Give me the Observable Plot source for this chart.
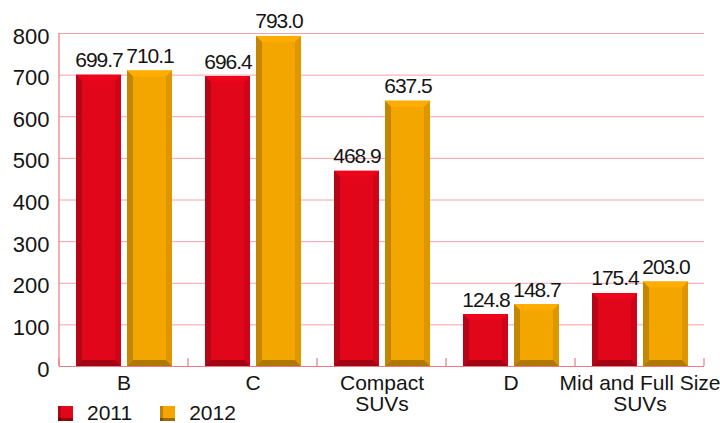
<!DOCTYPE html>
<html><head><meta charset="utf-8">
<script src="https://cdn.jsdelivr.net/npm/d3@7"></script>
<script src="https://cdn.jsdelivr.net/npm/@observablehq/plot@0.6"></script>
<style>
body{margin:0;background:#fff;}
#wrap{position:relative;width:720px;height:423px;overflow:hidden;font-family:"Liberation Sans",Arial,sans-serif;}
#legend{position:absolute;left:58px;top:403px;display:flex;align-items:center;font-size:21px;line-height:20px;color:#141414;}
.item{display:flex;align-items:center;margin-right:28px;}
.sw{width:15px;height:15px;display:inline-block;margin-right:14px;box-shadow:inset 3px 0 0 rgba(0,0,0,.22),inset 0 -3px 0 rgba(0,0,0,.35);}
g.vals text{letter-spacing:-1px;}
</style></head><body><div id="wrap"></div>
<script>
const categories = ["B", "C", "Compact\nSUVs", "D", "Mid and Full Size\nSUVs"];
const years = ["2011", "2012"];
const values2011 = [699.7, 696.4, 468.9, 124.8, 175.4];
const values2012 = [710.1, 793.0, 637.5, 148.7, 203.0];
const yTicks = [0, 100, 200, 300, 400, 500, 600, 700, 800];
const colors = ["#e1061a", "#f3a500"];
const gridColor = "#f4a2a8";
const baseColor = "#ec7a84";

const data = categories.flatMap((c, i) => [
  {category: c, year: years[0], value: values2011[i]},
  {category: c, year: years[1], value: values2012[i]}
]);

const plot = Plot.plot({
  width: 720, height: 423,
  marginTop: 33, marginRight: 15, marginBottom: 57, marginLeft: 58,
  style: {fontFamily: '"Liberation Sans", Arial, sans-serif', fontSize: "21px", color: "#141414", background: "#fff", overflow: "visible"},
  fx: {domain: categories, padding: 0, axis: null, label: null},
  x: {domain: years, paddingInner: 0.12, paddingOuter: 0.32, axis: null},
  y: {domain: [0, 800], axis: null},
  color: {domain: years, range: colors},
  marks: [
    Plot.ruleY(yTicks.slice(1), {stroke: gridColor, strokeWidth: 1}),
    Plot.barY(data, {fx: "category", x: "year", y: "value", fill: "year"}),
    Plot.ruleY([0], {stroke: baseColor, strokeWidth: 1.2}),
    Plot.text(data, {fx: "category", x: "year", y: "value", text: d => d.value.toFixed(1), dy: -8, lineAnchor: "bottom", fill: "#141414", fontSize: 21, className: "vals"}),
    Plot.text(categories, {fx: d => d, text: d => d, frameAnchor: "bottom", lineAnchor: "top", dy: 9, lineHeight: 1.0, fill: "#141414", fontSize: 21}),
    Plot.axisY({ticks: yTicks, tickSize: 0, tickPadding: 10, dy: 3, label: null, tickFormat: d => String(d), fontSize: 22, fill: "#141414"})
  ]
});

// Bevel decoration on each bar rect drawn by Plot
const b = 6;
plot.querySelectorAll('g[aria-label="bar"] rect').forEach(r => {
  const x = +r.getAttribute("x"), y = +r.getAttribute("y");
  const w = +r.getAttribute("width"), h = +r.getAttribute("height");
  const fill = r.getAttribute("fill") || getComputedStyle(r).fill;
  const c = d3.color(fill);
  const bb = Math.min(b, h / 2, w / 2);
  const polys = [
    {pts: [[x, y], [x + w, y], [x + w - bb, y + bb], [x + bb, y + bb]], col: c.brighter(0.15)},
    {pts: [[x, y], [x + bb, y + bb], [x + bb, y + h - bb], [x, y + h]], col: c.darker(0.6)},
    {pts: [[x + w, y], [x + w, y + h], [x + w - bb, y + h - bb], [x + w - bb, y + bb]], col: c.darker(0.25)},
    {pts: [[x, y + h], [x + bb, y + h - bb], [x + w - bb, y + h - bb], [x + w, y + h]], col: c.darker(0.9)}
  ];
  const parent = r.parentNode;
  polys.forEach(p => {
    const poly = document.createElementNS("http://www.w3.org/2000/svg", "polygon");
    poly.setAttribute("points", p.pts.map(q => q.join(",")).join(" "));
    poly.setAttribute("fill", p.col.formatHex());
    parent.appendChild(poly);
  });
});

// Frame line on the left and category separator ticks on the baseline, from Plot's scales
const fx = plot.scale("fx"), ys = plot.scale("y");
const y0 = ys.apply(0), yTop = ys.apply(d3.max(yTicks));
const svg = d3.select(plot.tagName.toLowerCase() === "svg" ? plot : plot.querySelector("svg"));
const deco = svg.append("g").attr("stroke", baseColor).attr("stroke-width", 1.2);
const edges = fx.domain.map(d => fx.apply(d));
edges.push(fx.apply(fx.domain[fx.domain.length - 1]) + fx.bandwidth);
deco.append("line").attr("x1", edges[0]).attr("x2", edges[0]).attr("y1", yTop).attr("y2", y0);
edges.forEach(e => deco.append("line").attr("x1", e).attr("x2", e).attr("y1", y0 - 8).attr("y2", y0));

const wrap = document.getElementById("wrap");
wrap.appendChild(plot);
const legend = document.createElement("div");
legend.id = "legend";
years.forEach((yr, i) => {
  const it = document.createElement("div");
  it.className = "item";
  const sw = document.createElement("span");
  sw.className = "sw";
  sw.style.background = colors[i];
  it.appendChild(sw);
  it.appendChild(document.createTextNode(yr));
  legend.appendChild(it);
});
wrap.appendChild(legend);
</script></body></html>
